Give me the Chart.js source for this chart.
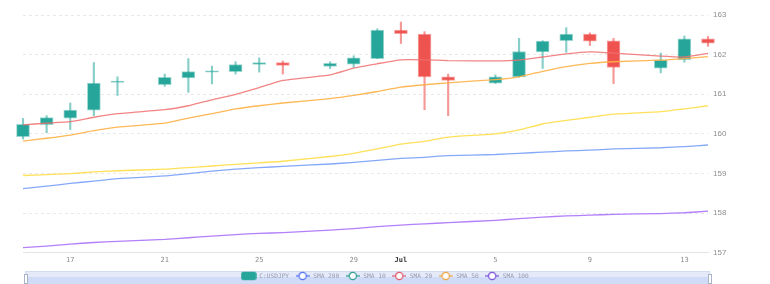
<!DOCTYPE html>
<html>
<head>
<meta charset="utf-8">
<script src="https://cdn.jsdelivr.net/npm/chart.js@4.4.1/dist/chart.umd.min.js"></script>
<style>
  html, body { margin: 0; padding: 0; background: #fff; }
  #wrap { width: 770px; height: 284px; }
</style>
</head>
<body>
<div id="wrap"><canvas id="chart"></canvas></div>
<script>
// dates (day of June; 31 = Jul 1)
const days = [15, 16, 17, 18, 19, 21, 22, 23, 24, 25, 26, 28, 29, 30, 31, 32, 33, 35, 36, 37, 38, 39, 40, 42, 43, 44];
const opens = [159.93, 160.23, 160.40, 160.60, 161.30, 161.24, 161.41, 161.56, 161.57, 161.75, 161.80, 161.70, 161.76, 161.90, 162.62, 162.52, 161.44, 161.28, 161.44, 162.07, 162.35, 162.52, 162.35, 161.66, 161.87, 162.40];
const closes = [160.24, 160.41, 160.60, 161.28, 161.33, 161.43, 161.57, 161.59, 161.75, 161.80, 161.73, 161.78, 161.92, 162.62, 162.53, 161.44, 161.35, 161.44, 162.08, 162.34, 162.52, 162.34, 161.68, 161.87, 162.40, 162.29];
const highs = [160.39, 160.46, 160.78, 161.80, 161.44, 161.51, 161.90, 161.71, 161.82, 161.92, 161.84, 161.82, 161.97, 162.65, 162.82, 162.58, 161.51, 161.49, 162.41, 162.35, 162.68, 162.55, 162.41, 162.04, 162.47, 162.46];
const lows = [159.87, 160.03, 160.11, 160.46, 160.97, 161.20, 161.05, 161.26, 161.51, 161.56, 161.51, 161.65, 161.68, 161.90, 162.28, 160.61, 160.46, 161.27, 161.43, 161.65, 162.06, 162.23, 161.27, 161.54, 161.81, 162.21];

// moving averages
const sma20 = [160.23, 160.27, 160.31, 160.42, 160.51, 160.61, 160.71, 160.86, 161.00, 161.17, 161.35, 161.49, 161.66, 161.77, 161.87, 161.87, 161.85, 161.84, 161.86, 161.94, 162.02, 162.07, 162.04, 161.96, 161.94, 162.03];
const sma50 = [159.82, 159.89, 159.97, 160.08, 160.17, 160.27, 160.40, 160.51, 160.63, 160.71, 160.78, 160.89, 160.97, 161.07, 161.18, 161.24, 161.29, 161.37, 161.44, 161.58, 161.70, 161.78, 161.82, 161.86, 161.90, 161.95];
const sma10 = [158.95, 158.97, 159.00, 159.04, 159.07, 159.11, 159.15, 159.19, 159.23, 159.27, 159.31, 159.43, 159.51, 159.62, 159.74, 159.81, 159.92, 160.00, 160.10, 160.25, 160.34, 160.42, 160.50, 160.56, 160.63, 160.71];
const sma200 = [158.62, 158.68, 158.75, 158.81, 158.87, 158.94, 159.00, 159.06, 159.11, 159.15, 159.18, 159.24, 159.28, 159.33, 159.38, 159.41, 159.45, 159.48, 159.51, 159.54, 159.57, 159.59, 159.62, 159.65, 159.68, 159.72];
const sma100 = [157.13, 157.17, 157.22, 157.26, 157.29, 157.34, 157.38, 157.42, 157.46, 157.49, 157.51, 157.57, 157.61, 157.66, 157.70, 157.73, 157.76, 157.82, 157.86, 157.90, 157.93, 157.95, 157.97, 157.99, 158.01, 158.05];

// axis ticks
const tickDays = [17, 21, 25, 29, 31, 35, 39, 43];
const tickLabels = ['17', '21', '25', '29', 'Jul', '5', '9', '13'];

// legend
const legendNames = ['C:USDJPY', 'SMA 200', 'SMA 10', 'SMA 20', 'SMA 50', 'SMA 100'];
const legendColors = ['#26a69a', '#4f6ef0', '#2a9d8f', '#e0566a', '#f0a43a', '#7a4fd6'];

const UP = '#26a69a';
const DOWN = '#ef5350';
const isUp = i => closes[i] >= opens[i];

function pts(arr) {
  return days.map((d, i) => ({ x: d, y: arr[i] }));
}

function legendIcon(color, first) {
  const c = document.createElement('canvas');
  c.width = first ? 16 : 14;
  c.height = 10;
  const g = c.getContext('2d');
  if (first) {
    g.fillStyle = color;
    g.strokeStyle = 'rgba(38,166,154,0.45)';
    g.lineWidth = 1;
    g.beginPath();
    g.roundRect(0.5, 1, 15, 8, 2);
    g.fill();
    g.stroke();
  } else {
    g.strokeStyle = color;
    g.lineWidth = 1.2;
    g.beginPath();
    g.moveTo(0, 5);
    g.lineTo(14, 5);
    g.stroke();
    g.fillStyle = '#fff';
    g.beginPath();
    g.arc(7, 5, 3.6, 0, Math.PI * 2);
    g.fill();
    g.stroke();
  }
  return c;
}

// dataZoom strip behind the legend
const slider = {
  id: 'slider',
  beforeDraw(chart) {
    const ctx = chart.ctx;
    const a = chart.chartArea;
    ctx.save();
    ctx.fillStyle = '#e4eaf8';
    ctx.fillRect(a.left + 2, 271, a.right - a.left, 13);
    ctx.fillStyle = 'rgba(205,217,246,0.9)';
    ctx.fillRect(a.left + 2, 277, a.right - a.left, 7);
    ctx.strokeStyle = '#d3dbef';
    ctx.lineWidth = 1;
    ctx.strokeRect(a.left + 2.5, 271.5, a.right - a.left - 1, 13);
    ctx.fillStyle = '#fff';
    ctx.strokeStyle = '#aab3c8';
    ctx.fillRect(a.left + 1, 274, 3, 9);
    ctx.strokeRect(a.left + 1.5, 274.5, 3, 9);
    ctx.fillRect(a.right, 274, 3, 9);
    ctx.strokeRect(a.right + 0.5, 274.5, 3, 9);
    ctx.restore();
  }
};

const lineDs = (label, arr, color) => ({
  type: 'line',
  label: label,
  data: pts(arr),
  borderColor: color,
  borderWidth: 1.3,
  pointRadius: 0,
  tension: 0.15,
  order: 1
});

const config = {
  type: 'bar',
  data: {
    datasets: [
      {
        label: 'wick',
        data: days.map((d, i) => ({ x: d, y: [lows[i], highs[i]] })),
        backgroundColor: ctx => isUp(ctx.dataIndex) ? 'rgba(38,166,154,0.55)' : 'rgba(239,83,80,0.6)',
        barThickness: 1.5,
        grouped: false,
        clip: false,
        order: 3
      },
      {
        label: 'C:USDJPY',
        data: days.map((d, i) => ({ x: d, y: [opens[i], closes[i]] })),
        backgroundColor: ctx => isUp(ctx.dataIndex) ? UP : DOWN,
        borderColor: ctx => isUp(ctx.dataIndex) ? 'rgba(38,166,154,0.45)' : 'rgba(239,83,80,0.5)',
        borderWidth: 1,
        borderSkipped: false,
        barThickness: 13,
        grouped: false,
        clip: false,
        order: 2
      },
      lineDs('SMA 20', sma20, 'rgba(240,110,110,0.85)'),
      lineDs('SMA 50', sma50, 'rgba(255,176,70,0.9)'),
      lineDs('SMA 10', sma10, 'rgba(255,222,80,0.95)'),
      lineDs('SMA 200', sma200, 'rgba(120,160,250,0.9)'),
      lineDs('SMA 100', sma100, 'rgba(175,120,250,0.95)')
    ]
  },
  options: {
    responsive: true,
    maintainAspectRatio: false,
    animation: false,
    layout: { padding: { left: 0, top: 15, right: 0, bottom: -5 } },
    plugins: {
      tooltip: { enabled: false },
      legend: {
        position: 'bottom',
        onClick: null,
        labels: {
          usePointStyle: true,
          pointStyleWidth: 15,
          boxHeight: 6,
          padding: 6,
          color: '#959bb0',
          font: { family: 'DejaVu Sans Mono', size: 6.2 },
          generateLabels: () => legendNames.map((n, i) => ({
            text: n,
            fillStyle: legendColors[i],
            strokeStyle: legendColors[i],
            fontColor: '#959bb0',
            lineWidth: 0,
            pointStyle: legendIcon(legendColors[i], i === 0),
            hidden: false,
            datasetIndex: i
          }))
        }
      }
    },
    scales: {
      x: {
        type: 'linear',
        min: 15,
        max: 44,
        offset: false,
        grid: { display: false, offset: false, drawTicks: false, tickLength: 0 },
        border: { display: true, color: '#e3e3e3' },
        afterBuildTicks: scale => { scale.ticks = tickDays.map(v => ({ value: v })); },
        afterFit: scale => { scale.height = 14; },
        ticks: {
          padding: 3,
          maxRotation: 0,
          autoSkip: false,
          color: ctx => ctx.tick && ctx.tick.value === 31 ? '#333' : '#8a8a8a',
          font: ctx => ({
            family: 'DejaVu Sans Mono',
            size: 7,
            weight: ctx.tick && ctx.tick.value === 31 ? 'bold' : 'normal'
          }),
          callback: v => tickLabels[tickDays.indexOf(v)]
        }
      },
      y: {
        position: 'right',
        min: 157,
        max: 163,
        beginAtZero: false,
        afterFit: scale => { scale.width = 62; },
        grid: { color: '#e8e8e8', drawTicks: false },
        border: { display: false, dash: [3, 3] },
        ticks: {
          stepSize: 1,
          padding: 5,
          color: '#8e8e8e',
          font: { family: 'Liberation Sans', size: 8 }
        }
      },
      // empty left axis, only reserves the left margin
      yPad: {
        position: 'left',
        min: 0,
        max: 1,
        afterFit: scale => { scale.width = 23; },
        grid: { display: false, drawTicks: false },
        border: { display: false },
        ticks: { display: false }
      }
    }
  },
  plugins: [slider]
};

const chart = new Chart(document.getElementById('chart'), config);
</script>
</body>
</html>
